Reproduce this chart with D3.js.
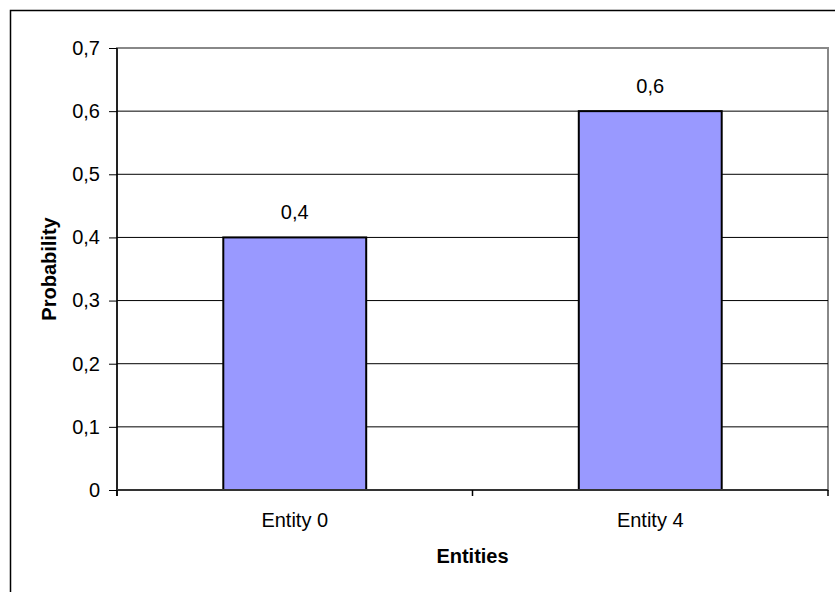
<!DOCTYPE html>
<html>
<head>
<meta charset="utf-8">
<script src="https://cdn.jsdelivr.net/npm/d3@7"></script>
<style>
  html, body { margin: 0; padding: 0; background: #fff; }
  svg { display: block; }
  text { font-family: Arial, "Liberation Sans", sans-serif; fill: #000; }
</style>
</head>
<body>
<svg id="chart" width="835" height="592"></svg>
<script>
// Chart data
const categories = ["Entity 0", "Entity 4"];
const probabilities = [0.4, 0.6];
const yTickValues = [0, 0.1, 0.2, 0.3, 0.4, 0.5, 0.6, 0.7];
const xAxisTitle = "Entities";
const yAxisTitle = "Probability";

const svg = d3.select("#chart");
const W = 835, H = 592;

// Plot area
const plot = { left: 117, right: 828, top: 48, bottom: 490 };

// Number format with decimal comma
const locale = d3.formatLocale({ decimal: ",", thousands: ".", grouping: [3], currency: ["", ""] });
const fmt = locale.format(".1~f");

const x = d3.scaleBand().domain(categories).range([plot.left, plot.right]).padding(0);
const y = d3.scaleLinear().domain([0, 0.7]).range([plot.bottom, plot.top]);

svg.append("rect").attr("width", W).attr("height", H).attr("fill", "#fff");

// Outer chart frame
svg.append("rect")
  .attr("x", 10.5).attr("y", 10.5)
  .attr("width", 900).attr("height", 700)
  .attr("fill", "none").attr("stroke", "#000").attr("stroke-width", 1.5);

// Plot area frame
svg.append("rect")
  .attr("x", plot.left).attr("y", plot.top)
  .attr("width", plot.right - plot.left).attr("height", plot.bottom - plot.top)
  .attr("fill", "#fff").attr("stroke", "#888").attr("stroke-width", 2);

// Horizontal gridlines
svg.append("g")
  .selectAll("line")
  .data(yTickValues.filter(v => v > 0 && v < 0.7))
  .join("line")
  .attr("x1", plot.left).attr("x2", plot.right)
  .attr("y1", d => y(d)).attr("y2", d => y(d))
  .attr("stroke", "#000").attr("stroke-width", 1);

// Bars
const barWidth = x.bandwidth() * 0.402;
svg.append("g")
  .selectAll("rect")
  .data(categories.map((c, i) => ({ c, v: probabilities[i] })))
  .join("rect")
  .attr("x", d => x(d.c) + x.bandwidth() / 2 - barWidth / 2)
  .attr("y", d => y(d.v))
  .attr("width", barWidth)
  .attr("height", d => y(0) - y(d.v))
  .attr("fill", "#9999FF")
  .attr("stroke", "#000")
  .attr("stroke-width", 2);

// Value labels
svg.append("g")
  .selectAll("text")
  .data(categories.map((c, i) => ({ c, v: probabilities[i] })))
  .join("text")
  .attr("x", d => x(d.c) + x.bandwidth() / 2)
  .attr("y", d => y(d.v) - 18)
  .attr("text-anchor", "middle")
  .attr("font-size", 20)
  .text(d => fmt(d.v));

// Y axis
const yAxis = d3.axisLeft(y)
  .tickValues(yTickValues)
  .tickFormat(fmt)
  .tickSizeInner(8)
  .tickSizeOuter(0)
  .tickPadding(9);
const gy = svg.append("g").attr("transform", `translate(${plot.left},0)`).call(yAxis);
gy.select(".domain").remove();
gy.selectAll(".tick line").attr("stroke", "#000").attr("stroke-width", 1);
gy.selectAll(".tick text").attr("font-size", 20).attr("font-family", "Arial, 'Liberation Sans', sans-serif").attr("fill", "#000");
svg.append("line")
  .attr("x1", plot.left).attr("x2", plot.left)
  .attr("y1", plot.top).attr("y2", plot.bottom + 6)
  .attr("stroke", "#000").attr("stroke-width", 1.5);

// X axis line and category boundary ticks
svg.append("line")
  .attr("x1", plot.left).attr("x2", plot.right)
  .attr("y1", plot.bottom).attr("y2", plot.bottom)
  .attr("stroke", "#333").attr("stroke-width", 2);
const boundaries = categories.map(c => x(c)).concat([x(categories[categories.length - 1]) + x.bandwidth()]);
svg.append("g")
  .selectAll("line")
  .data(boundaries)
  .join("line")
  .attr("x1", d => d).attr("x2", d => d)
  .attr("y1", plot.bottom).attr("y2", plot.bottom + 6)
  .attr("stroke", "#000").attr("stroke-width", 1.5);

// Category labels
svg.append("g")
  .selectAll("text")
  .data(categories)
  .join("text")
  .attr("x", d => x(d) + x.bandwidth() / 2)
  .attr("y", 527)
  .attr("text-anchor", "middle")
  .attr("font-size", 20)
  .text(d => d);

// Axis titles
svg.append("text")
  .attr("x", (plot.left + plot.right) / 2)
  .attr("y", 563)
  .attr("text-anchor", "middle")
  .attr("font-size", 20)
  .attr("font-weight", "bold")
  .text(xAxisTitle);

svg.append("text")
  .attr("transform", `translate(56,${(plot.top + plot.bottom) / 2}) rotate(-90)`)
  .attr("text-anchor", "middle")
  .attr("font-size", 20)
  .attr("font-weight", "bold")
  .text(yAxisTitle);
</script>
</body>
</html>
